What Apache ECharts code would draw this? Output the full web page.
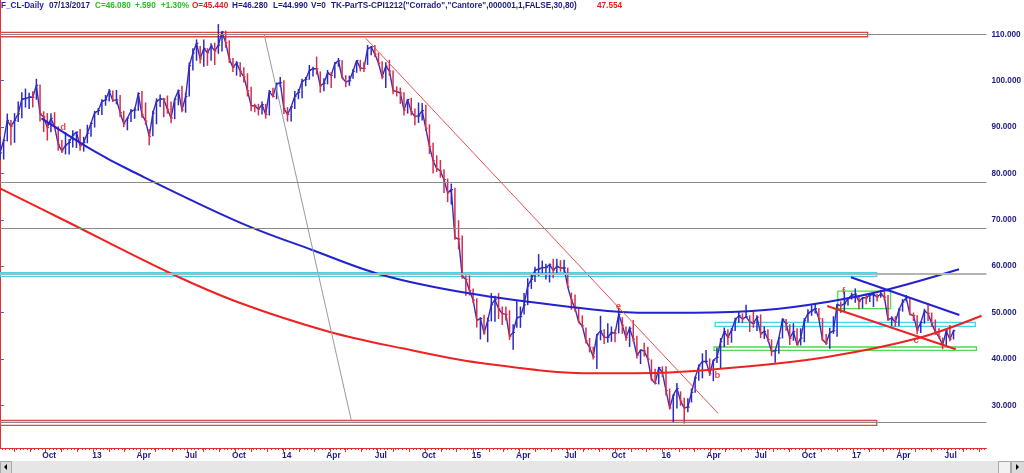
<!DOCTYPE html>
<html>
<head>
<meta charset="utf-8">
<script src="https://cdn.jsdelivr.net/npm/echarts@6/dist/echarts.min.js"></script>
<style>
html,body{margin:0;padding:0;background:#fff;}
#chart{width:1024px;height:473px;}
</style>
</head>
<body>
<div id="chart"></div>
<script>
// ---- weekly bars (week 0 = week of 2 Jul 2012, last = week of 10 Jul 2017) ----
const weekHigh = [
 88.0,87.4,92.9,91.5,93.0,95.5,97.5,98.3,97.4,97.7,100.4,99.2,93.4,93.0,93.0,93.2,90.2,87.2,88.9,87.4,89.3,89.0,89.6,87.9,90.5,91.0,93.5,
 94.1,96.0,96.9,98.2,97.9,98.0,96.9,93.5,92.0,93.9,94.2,97.5,97.8,95.3,89.6,93.5,96.2,97.0,96.3,96.8,95.5,96.1,98.1,98.9,97.4,103.9,107.0,108.9,107.5,108.9,107.0,108.1,108.2,112.2,110.7,110.8,108.7,104.9,104.2,104.0,102.9,101.6,98.7,95.0,95.0,95.5,95.0,98.0,98.5,99.6,100.8,100.1,
 94.3,94.5,97.8,98.2,100.4,100.8,103.4,103.0,105.2,102.0,100.5,102.3,101.9,104.0,104.9,104.4,101.2,101.1,102.5,104.4,104.5,104.0,107.7,107.5,107.7,106.0,104.2,104.0,104.5,102.2,98.8,98.5,97.5,96.0,96.3,94.0,95.3,95.2,94.8,90.6,86.6,83.9,82.9,80.9,78.9,77.8,76.9,69.9,66.6,58.0,58.0,55.2,
 53.1,49.0,49.5,48.9,54.2,53.6,54.2,51.3,51.3,50.5,47.5,52.5,51.3,54.2,57.4,58.4,59.9,62.6,61.2,60.5,60.6,61.6,61.6,61.3,61.4,59.7,54.3,53.9,51.2,49.4,46.8,44.5,42.6,45.3,49.3,46.4,47.7,47.0,46.4,50.9,49.0,47.0,47.0,48.4,45.0,42.0,43.5,42.6,39.9,37.9,38.3,38.4,
 38.4,33.6,32.3,34.8,33.0,31.6,31.5,33.6,36.2,38.8,41.2,41.9,40.1,39.8,42.4,44.5,46.8,46.4,46.7,48.9,50.2,49.8,51.7,49.4,50.5,49.4,49.6,47.0,46.4,44.2,42.0,44.7,48.8,48.6,47.5,47.7,46.6,46.6,48.8,50.7,51.6,51.9,50.9,48.8,45.4,46.7,49.2,51.9,52.4,54.5,53.3,54.3,
 55.2,53.8,53.2,54.0,54.0,54.2,54.0,54.9,54.6,53.8,49.2,49.2,50.9,52.9,53.8,53.2,50.0,49.4,48.0,50.8,52.0,50.0,48.5,46.6,44.6,46.3,47.3,46.3
];
const weekLow = [
 82.9,83.0,86.9,86.1,86.6,91.1,91.9,94.2,93.9,94.2,95.9,91.2,88.9,87.1,88.9,89.6,84.9,84.4,84.1,84.1,85.6,85.5,84.9,84.7,86.5,87.9,89.9,
 92.6,92.6,94.6,95.5,95.4,94.9,92.1,90.0,89.3,91.1,91.8,93.5,92.0,90.5,86.1,88.0,90.6,94.3,92.1,92.9,90.8,91.7,94.7,93.2,93.1,96.6,102.2,104.3,103.7,103.0,103.2,104.3,103.4,105.8,106.3,107.1,103.8,101.9,101.1,100.8,99.6,96.6,93.4,93.2,92.5,92.7,91.8,92.5,96.4,96.0,98.7,92.8,
 91.2,91.2,93.9,96.0,96.2,98.8,100.2,100.9,101.3,97.4,97.7,99.2,98.4,100.5,103.0,100.6,98.6,98.9,100.4,101.7,102.0,101.9,103.4,105.5,105.1,103.4,100.3,98.4,101.1,97.1,96.6,95.0,92.5,92.9,92.5,90.4,90.9,91.4,89.2,84.2,80.0,80.3,79.1,75.8,73.8,73.3,65.7,63.6,57.3,53.6,53.7,52.0,
 46.8,44.2,45.2,43.6,48.1,48.0,48.6,47.3,48.3,44.1,42.0,46.7,46.7,49.6,51.6,55.1,56.6,57.9,58.3,57.1,56.5,57.4,58.2,58.8,58.7,55.4,50.6,50.2,47.7,46.7,43.3,41.4,39.9,37.8,44.0,43.2,43.5,43.7,43.6,45.5,45.4,43.9,42.6,43.7,40.1,38.9,40.5,39.8,35.3,34.5,34.5,36.1,
 32.1,29.1,26.2,29.3,29.9,26.1,28.5,30.6,32.7,35.3,35.8,39.0,36.3,35.2,39.1,38.0,42.5,43.0,43.5,46.0,47.8,47.7,48.8,45.8,46.7,46.0,44.5,44.3,43.7,40.6,39.2,41.1,44.4,46.1,43.0,43.9,42.9,42.9,43.6,47.9,49.3,49.8,48.3,43.9,43.0,42.2,45.4,44.8,49.9,50.3,51.5,52.8,
 52.1,50.7,50.9,51.8,52.3,51.2,52.4,53.2,52.6,48.2,47.1,47.0,47.1,50.2,52.4,49.4,48.2,45.4,45.6,47.6,48.2,46.9,45.2,44.4,42.1,42.8,43.8,44.2
];
const weekClose = [
 84.45,87.10,91.44,90.13,91.40,92.87,96.01,96.15,96.47,96.42,99.00,92.89,92.19,89.88,91.86,90.05,86.28,84.86,86.07,86.67,88.28,88.91,85.93,86.73,88.66,90.80,93.09,
 93.56,95.56,95.88,97.77,95.72,95.86,93.13,90.68,91.95,93.45,93.71,97.23,92.70,91.29,88.01,93.00,95.61,96.04,96.02,93.84,91.97,96.03,97.85,93.69,96.56,103.22,105.95,108.05,104.70,106.94,106.03,107.46,106.42,107.65,110.53,108.21,104.67,102.87,103.84,102.02,100.81,97.85,94.61,94.60,93.84,94.84,92.72,97.65,96.60,99.32,99.55,93.96,
 92.72,94.37,96.64,97.49,99.88,100.30,102.20,102.59,102.58,98.89,99.46,101.67,101.14,103.74,104.30,100.60,99.76,99.99,102.02,104.35,102.71,102.66,106.91,107.26,105.74,103.77,100.83,103.13,102.09,97.88,97.65,97.35,93.65,95.96,93.29,92.27,92.41,93.54,89.74,85.82,82.75,81.01,80.54,78.65,75.82,76.51,66.15,65.84,57.81,57.13,54.73,52.69,
 48.36,48.69,45.59,48.24,51.69,52.78,50.81,49.76,49.61,44.84,45.72,48.87,49.14,51.64,55.74,57.15,59.15,59.39,59.69,59.72,60.30,59.13,59.96,59.61,59.63,55.52,52.74,50.89,47.97,47.12,43.87,42.50,40.45,45.22,46.05,44.63,44.68,45.70,45.54,49.63,47.26,44.60,46.59,44.29,40.74,41.90,41.71,39.97,35.62,34.73,38.10,37.04,
 33.16,29.42,32.19,33.62,30.89,29.44,29.64,32.78,35.92,38.50,39.44,39.46,36.79,39.72,40.36,43.73,45.92,44.66,46.21,48.41,49.33,48.62,49.07,47.98,47.64,48.99,45.41,45.95,44.19,41.60,41.80,44.49,48.52,47.64,44.44,45.88,43.03,44.48,48.24,49.81,50.35,50.85,48.70,44.07,43.41,45.69,46.06,51.68,51.50,51.90,53.02,53.72,
 53.99,52.37,53.22,53.17,53.83,53.86,53.40,53.99,53.33,48.49,48.78,47.97,50.60,52.24,53.18,49.62,49.33,46.22,47.84,50.33,49.80,47.66,45.83,44.74,43.01,46.04,44.23,46.08
];

// ---- axis tick labels ----
const quarterLabels = ['Oct','13','Apr','Jul','Oct','14','Apr','Jul','Oct','15','Apr','Jul','Oct','16','Apr','Jul','Oct','17','Apr','Jul'];
const quarterDates = ['2012-10-01','2013-01-01','2013-04-01','2013-07-01','2013-10-01','2014-01-01','2014-04-01','2014-07-01','2014-10-01','2015-01-01','2015-04-01','2015-07-01','2015-10-01','2016-01-01','2016-04-01','2016-07-01','2016-10-01','2017-01-01','2017-04-01','2017-07-01'];
const priceTicks = [30,40,50,60,70,80,90,100,110];

// ---- drawn annotations (week index, price) ----
const horizontalLevels = [110, 78.1, 68.17, 26.4];
const thickLevel = [58.38];
const redBoxes = [[0,238.4,109.48,110.43],[0,240.9,25.65,26.72]];
const cyanBoxes = [[0,240.9,57.82,58.59],[196.5,268.0,47.03,47.9]];
const greenBoxes = [[196.2,268.3,41.86,42.57],[230.2,244.7,50.85,54.6]];
const blueArc = [[11.4,91.89],[25.4,85.05],[35.6,80.74],[65.8,69.46],[85.8,63.49],[105.0,58.1],[128.8,54.15],[157.6,51.13],[175.1,49.97],[190.7,49.97],[210.2,50.55],[227.7,52.34],[243.4,54.86],[263.5,59.33]];
const redArc = [[0,76.79],[17.5,69.96],[47.3,58.31],[65.8,52.12],[90.4,45.87],[110.5,42.29],[131.5,39.18],[163.5,36.9],[182.1,37.03],[202.8,38.19],[227.6,40.48],[252.1,44.45],[269.7,49.32]];
const grayDiagonal = [[72.6,109.93],[96.5,26.83]];
const redDiagonal = [[100.5,109.14],[197.3,28.27]];
const blueFalling = [[233.8,57.6],[263.6,49.47]];
const redFalling = [[227.3,51.41],[262.6,42.07]];
const waveLabels = [['d',17.35,89.95],['e',169.9,51.26],['b',197.1,36.53],['f',231.8,54.64],['c',251.7,44.08]];

// ---- helpers ----
const BASE = Date.UTC(2012,6,2);
function weekOf(s){ const p=s.split('-').map(Number); return (Date.UTC(p[0],p[1]-1,p[2])-BASE)/864e5/7 - 0.5; }
const labelPos = quarterDates.map(d => weekOf(d) + 1.0);
const monthTicks = [];
for (let y=2012; y<=2017; y++) for (let m=1; m<=12; m++) {
  if ((y===2012 && m<8) || (y===2017 && m>9)) continue;
  monthTicks.push(weekOf(y+'-'+(m<10?'0'+m:m)+'-01'));
}
const weekTicks = [];
for (let k=1; k<=271; k++) weekTicks.push(k-0.5);

const BLUE='#2b2bc4', RED='#d82c48', NAVY='#1c1c80';
const FONT='Liberation Sans, Arial, sans-serif';
const XMAX = 989/3.649;

const barData = weekHigh.map((h,i)=>[i, weekLow[i], h, (i===0 || weekClose[i]>=weekClose[i-1]) ? 1 : 0, weekClose[i]]);
const closeLine = weekClose.map((c,i)=>[i,c]);

function boxArea(list, color){
  return list.map(b => [{coord:[b[0],b[3]], itemStyle:{color:'rgba(0,0,0,0)', borderColor:color, borderWidth:1.3}}, {coord:[b[1],b[2]]}]);
}
function seg(data, color, width, smooth){
  return {type:'line', data:data, symbol:'none', smooth:smooth||false, silent:true, z:4,
    lineStyle:{color:color, width:width}, xAxisIndex:0, yAxisIndex:0};
}

const chart = echarts.init(document.getElementById('chart'), null, {renderer:'canvas'});
const option = {
  animation:false,
  backgroundColor:'#ffffff',
  grid:{left:0, right:35, top:0, bottom:25},
  xAxis:[
    {type:'value', min:0, max:XMAX, position:'bottom',
     axisLine:{show:true, lineStyle:{color:'#e03030', width:1}},
     axisTick:{show:true, customValues:weekTicks, length:2, lineStyle:{color:'#e03030'}},
     axisLabel:{show:true, customValues:labelPos, margin:4, color:NAVY, fontFamily:FONT, fontWeight:'bold', fontSize:8.4,
       formatter:function(v){ for (let j=0;j<labelPos.length;j++) if (Math.abs(labelPos[j]-v)<0.01) return quarterLabels[j]; return ''; }},
     splitLine:{show:false}},
    {type:'value', min:0, max:XMAX, position:'bottom',
     axisLine:{show:false},
     axisTick:{show:true, customValues:monthTicks, length:4, lineStyle:{color:'#e03030'}},
     axisLabel:{show:false}, splitLine:{show:false}}
  ],
  yAxis:{type:'value', position:'right', min:20.79, max:117.4, scale:true,
    axisLine:{show:true, lineStyle:{color:'#e03030', width:1}},
    axisTick:{show:true, customValues:priceTicks, length:4, lineStyle:{color:'#6060a0'}},
    axisLabel:{show:true, customValues:priceTicks, margin:5, color:NAVY, fontFamily:FONT, fontWeight:'bold', fontSize:8.2,
      formatter:function(v){ return v.toFixed(3); }},
    splitLine:{show:false}},
  series:[
    {type:'line', data:[], silent:true, z:1,
     markLine:{silent:true, symbol:'none', label:{show:false},
       data: horizontalLevels.map(v=>({yAxis:v, lineStyle:{color:'#8a8a8a', width:1, type:'solid'}}))
        .concat(thickLevel.map(v=>({yAxis:v, lineStyle:{color:'#b4b4b4', width:2.2, type:'solid'}})))},
     markArea:{silent:true, data: boxArea(redBoxes,'#dd4848').concat(boxArea(cyanBoxes,'#44d4e4')).concat(boxArea(greenBoxes,'#4cdc4c'))}
    },
    {type:'line', data:closeLine, symbol:'none', silent:true, z:2,
     lineStyle:{color:'#3a2cb4', width:1.4}},
    {type:'custom', z:3, silent:true,
     renderItem:function(params, api){
       const x=api.value(0), lo=api.value(1), hi=api.value(2), up=api.value(3), c=api.value(4);
       const a=api.coord([x,hi]), b=api.coord([x,lo]), k=api.coord([x,c]);
       const col = up ? BLUE : RED;
       return {type:'group', children:[
         {type:'line', shape:{x1:a[0], y1:a[1], x2:b[0], y2:b[1]}, style:{stroke:col, lineWidth:1.5}},
         {type:'line', shape:{x1:k[0], y1:k[1], x2:k[0]+1.8, y2:k[1]}, style:{stroke:col, lineWidth:1.2}}
       ]};
     },
     encode:{x:0, y:[1,2]},
     data:barData},
    seg(blueArc,'#2222d0',2,0.35),
    seg(redArc,'#ee2222',2,0.35),
    seg(grayDiagonal,'#9a9a9a',1),
    seg(redDiagonal,'#e85050',1),
    seg(blueFalling,'#2222d0',2),
    seg(redFalling,'#ee2222',2),
    {type:'scatter', z:5, silent:true, symbolSize:1, itemStyle:{color:'rgba(0,0,0,0)'},
     data: waveLabels.map(w=>({name:w[0], value:[w[1],w[2]]})),
     label:{show:true, position:'inside', formatter:'{b}', color:'#e02020', fontFamily:FONT, fontWeight:'bold', fontSize:9.5}}
  ],
  graphic:[
    {type:'rect', left:0, top:461, shape:{width:1024, height:12}, style:{fill:'#e6e6e6'}, silent:true},
    {type:'rect', left:0, top:461, shape:{width:11, height:12}, style:{fill:'#dadada', stroke:'#a8a8a8'}, silent:true},
    {type:'polygon', shape:{points:[[7,464],[7,470],[4,467]]}, style:{fill:'#000'}, silent:true},
    {type:'rect', left:998, top:461, shape:{width:12, height:12}, style:{fill:'#f2f2f2', stroke:'#a8a8a8'}, silent:true},
    {type:'rect', left:1011, top:461, shape:{width:13, height:12}, style:{fill:'#dadada', stroke:'#a8a8a8'}, silent:true},
    {type:'polygon', shape:{points:[[1016,464],[1016,470],[1019,467]]}, style:{fill:'#000'}, silent:true},
    {type:'text', x:1, y:6, style:{text:'F_CL-Daily', fill:'#2020b0', font:'bold 8.2px '+FONT, verticalAlign:'middle'}},
    {type:'text', x:49, y:6, style:{text:'07/13/2017', fill:'#1c1c80', font:'bold 8.2px '+FONT, verticalAlign:'middle'}},
    {type:'text', x:95, y:6, style:{text:'C=46.080', fill:'#22c022', font:'bold 8.2px '+FONT, verticalAlign:'middle'}},
    {type:'text', x:135, y:6, style:{text:'+.590', fill:'#22c022', font:'bold 8.2px '+FONT, verticalAlign:'middle'}},
    {type:'text', x:161, y:6, style:{text:'+1.30%', fill:'#22c022', font:'bold 8.2px '+FONT, verticalAlign:'middle'}},
    {type:'text', x:192, y:6, style:{text:'O=45.440', fill:'#e02020', font:'bold 8.2px '+FONT, verticalAlign:'middle'}},
    {type:'text', x:232, y:6, style:{text:'H=46.280', fill:'#1c1c80', font:'bold 8.2px '+FONT, verticalAlign:'middle'}},
    {type:'text', x:273, y:6, style:{text:'L=44.990', fill:'#1c1c80', font:'bold 8.2px '+FONT, verticalAlign:'middle'}},
    {type:'text', x:311, y:6, style:{text:'V=0', fill:'#1c1c80', font:'bold 8.2px '+FONT, verticalAlign:'middle'}},
    {type:'text', x:331, y:6, style:{text:'TK-ParTS-CPI1212("Corrado","Cantore",000001,1,FALSE,30,80)', fill:'#1c1c80', font:'bold 8.2px '+FONT, verticalAlign:'middle'}},
    {type:'text', x:597, y:6, style:{text:'47.554', fill:'#e02020', font:'bold 8.2px '+FONT, verticalAlign:'middle'}}
  ]
};
chart.setOption(option);
</script>
</body>
</html>
